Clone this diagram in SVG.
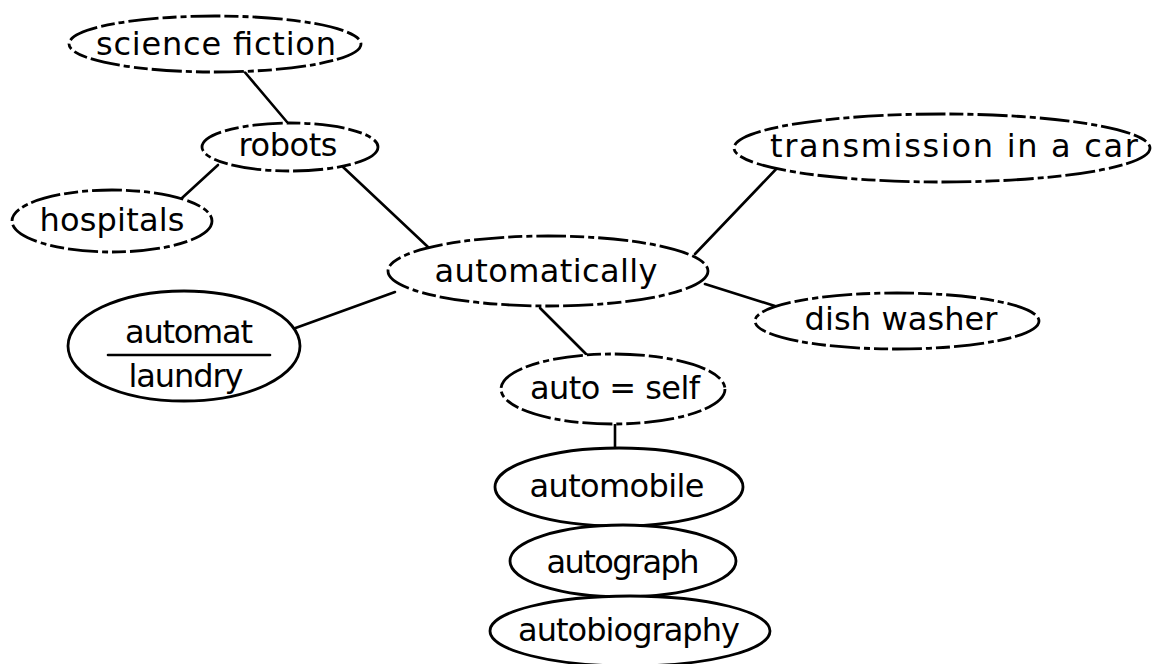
<svg xmlns="http://www.w3.org/2000/svg" width="1152" height="664" viewBox="0 0 1152 664">
  <style>
    .bg { fill: #ffffff; }
    .node ellipse { fill: #ffffff; stroke: #000000; stroke-width: 2.8; }
    .node.dashed ellipse { stroke-dasharray: 30 4 14 4 6 4; }
    .node text { font-family: "DejaVu Sans", "Liberation Sans", sans-serif; font-size: 32px; fill: #000000; text-anchor: middle; }
    .links line, .rule { stroke: #000000; stroke-width: 2.6; stroke-linecap: round; }
  </style>
  <rect class="bg" x="0" y="0" width="1152" height="664"/>

  <!-- connectors -->
  <g id="connectors" class="links">
    <line x1="243" y1="70" x2="287" y2="122"/>
    <line x1="218" y1="165" x2="182" y2="198"/>
    <line x1="343" y1="167" x2="428" y2="247"/>
    <line x1="290" y1="330" x2="395" y2="292"/>
    <line x1="695" y1="254" x2="780" y2="165"/>
    <line x1="705" y1="284" x2="775" y2="306"/>
    <line x1="540" y1="308" x2="587" y2="355"/>
    <line x1="615" y1="424" x2="615" y2="448"/>
  </g>

  <g id="science-fiction" class="node dashed">
    <ellipse cx="215" cy="44" rx="146" ry="28"/>
    <text x="216" y="55" textLength="240" lengthAdjust="spacing">science fiction</text>
  </g>

  <g id="robots" class="node dashed">
    <ellipse cx="290" cy="147" rx="88" ry="24"/>
    <text x="288" y="156" textLength="99" lengthAdjust="spacing">robots</text>
  </g>

  <g id="hospitals" class="node dashed">
    <ellipse cx="112" cy="221" rx="100" ry="31"/>
    <text x="112" y="231" textLength="145" lengthAdjust="spacing">hospitals</text>
  </g>

  <g id="automatically" class="node dashed">
    <ellipse cx="548" cy="271" rx="160" ry="35"/>
    <text x="546" y="282" textLength="223" lengthAdjust="spacing">automatically</text>
  </g>

  <g id="automat-laundry" class="node">
    <ellipse cx="184" cy="346" rx="116" ry="55"/>
    <text x="189" y="343" textLength="128" lengthAdjust="spacing">automat</text>
    <line class="rule" x1="108" y1="355" x2="270" y2="355"/>
    <text x="186" y="387" textLength="115" lengthAdjust="spacing">laundry</text>
  </g>

  <g id="transmission" class="node dashed">
    <ellipse cx="942" cy="148" rx="208" ry="34"/>
    <text x="954" y="157" textLength="368" lengthAdjust="spacing">transmission in a car</text>
  </g>

  <g id="dish-washer" class="node dashed">
    <ellipse cx="897" cy="321" rx="142" ry="28"/>
    <text x="901" y="330" textLength="193" lengthAdjust="spacing">dish washer</text>
  </g>

  <g id="auto-self" class="node dashed">
    <ellipse cx="613" cy="389" rx="112" ry="35"/>
    <text x="615" y="399" textLength="170" lengthAdjust="spacing">auto = self</text>
  </g>

  <g id="automobile" class="node">
    <ellipse cx="619" cy="487" rx="124" ry="39"/>
    <text x="617" y="497" textLength="175" lengthAdjust="spacing">automobile</text>
  </g>

  <g id="autograph" class="node">
    <ellipse cx="623" cy="561" rx="113" ry="36"/>
    <text x="623" y="573" textLength="153" lengthAdjust="spacing">autograph</text>
  </g>

  <g id="autobiography" class="node">
    <ellipse cx="630" cy="631" rx="140" ry="35"/>
    <text x="629" y="641" textLength="222" lengthAdjust="spacing">autobiography</text>
  </g>
</svg>
